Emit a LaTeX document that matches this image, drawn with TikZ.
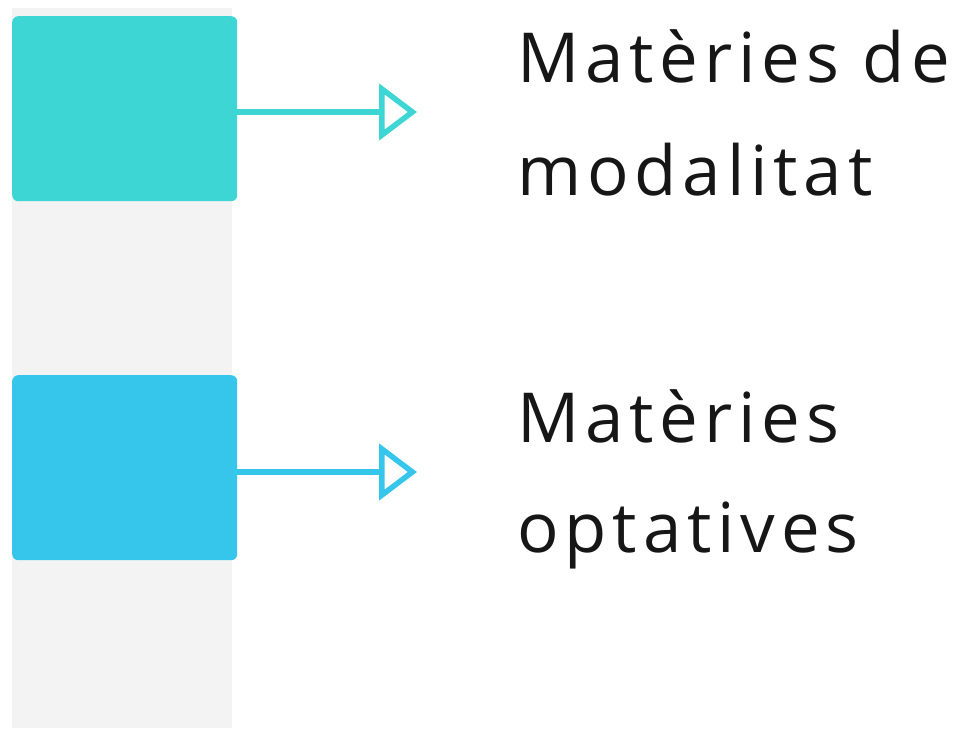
\documentclass[tikz,border=0pt]{standalone}
\usepackage{fontspec}
\setmainfont[LetterSpace=8.5]{Open Sans}
\usetikzlibrary{arrows.meta}
\definecolor{tealc}{HTML}{3DD6D4}
\definecolor{bluec}{HTML}{36C6EC}
\definecolor{stripc}{HTML}{F3F3F3}
\definecolor{textc}{HTML}{161616}
\tikzset{
  box/.style={draw=none, rounded corners=6pt, minimum width=225pt, minimum height=185pt, inner sep=0pt, anchor=north west},
  conn/.style={line width=5.5pt, -{Triangle[open, length=38pt, width=56pt, line width=5.5pt]}},
  lbl/.style={anchor=base west, inner sep=0pt, text=textc, font=\fontsize{69}{113}\selectfont}
}
\begin{document}
\begin{tikzpicture}[x=1pt,y=-1pt]
\useasboundingbox (0,0) rectangle (966,728);
\node[fill=stripc, minimum width=220pt, minimum height=720pt, inner sep=0pt, anchor=north west] (strip) at (12,8) {};
\node[box, fill=tealc] (teal) at (12,16) {};
\node[box, fill=bluec] (blue) at (12,375) {};
\coordinate (t1) at (417,112);
\coordinate (t2) at (417,472);
\draw[conn, draw=tealc] (teal.east |- t1) -- (t1);
\draw[conn, draw=bluec] (blue.east |- t2) -- (t2);
\node[lbl] (l1) at (517,82) {Matèries de};
\node[lbl] (l2) at (517,195) {modalitat};
\node[lbl] (l3) at (517,442) {Matèries};
\node[lbl] (l4) at (517,552) {optatives};
\end{tikzpicture}
\end{document}
